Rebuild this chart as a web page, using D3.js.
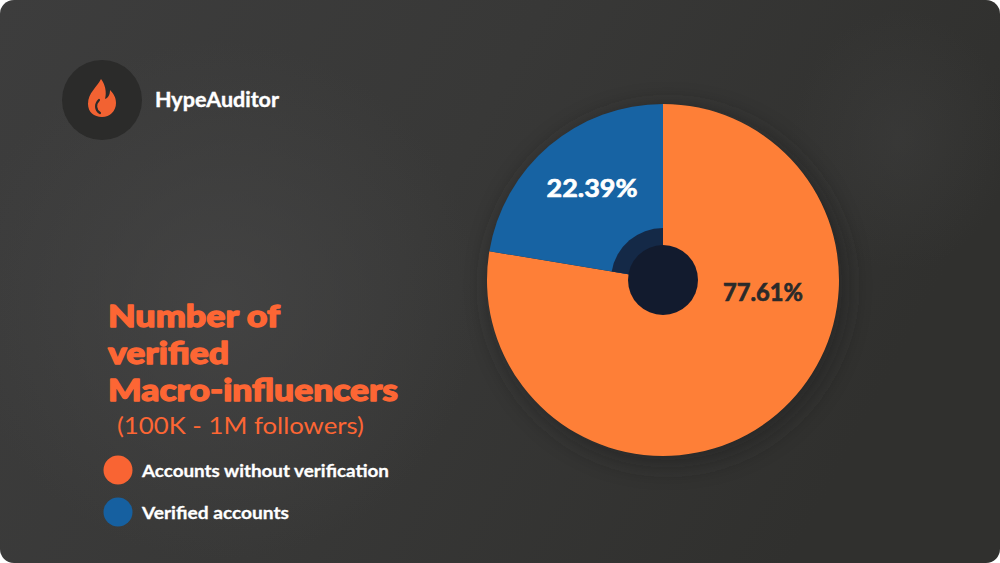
<!DOCTYPE html>
<html><head><meta charset="utf-8">
<script src="https://cdn.jsdelivr.net/npm/d3@7"></script>
<style>html,body{margin:0;padding:0;background:#fff;}svg{display:block;}</style>
</head><body>
<svg id="chart" width="1000" height="563"></svg>
<script>
const categories = ["Accounts without verification", "Verified accounts"];
const values = [77.61, 22.39];
const valueLabels = ["77.61%", "22.39%"];
const sliceColors = ["#fe7f37", "#1763a3"];
const legendColors = ["#f96433", "#1660a0"];
const titleLines = ["Number of", "verified", "Macro-influencers"];
const subtitle = "(100K - 1M followers)";
const brand = "HypeAuditor";

const svg = d3.select("#chart");
const defs = svg.append("defs");

const bg = defs.append("linearGradient").attr("id","bg").attr("x1","0").attr("y1","0").attr("x2","1").attr("y2","0.3");
bg.append("stop").attr("offset","0").attr("stop-color","#3d3d3d");
bg.append("stop").attr("offset","0.5").attr("stop-color","#383837");
bg.append("stop").attr("offset","1").attr("stop-color","#30302e");

const glow = defs.append("radialGradient").attr("id","glow");
glow.append("stop").attr("offset","0").attr("stop-color","#454545").attr("stop-opacity",0.8);
glow.append("stop").attr("offset","1").attr("stop-color","#454545").attr("stop-opacity",0);

const blur = defs.append("filter").attr("id","blur").attr("x","-50%").attr("y","-50%").attr("width","200%").attr("height","200%");
blur.append("feGaussianBlur").attr("stdDeviation", 12);

const clip = defs.append("clipPath").attr("id","card");
clip.append("rect").attr("x",0).attr("y",0).attr("width",1000).attr("height",563).attr("rx",14);

const card = svg.append("g").attr("clip-path","url(#card)");
card.append("rect").attr("width",1000).attr("height",563).attr("fill","url(#bg)");
card.append("ellipse").attr("cx",220).attr("cy",300).attr("rx",260).attr("ry",260).attr("fill","url(#glow)");
card.append("ellipse").attr("cx",900).attr("cy",140).attr("rx",110).attr("ry",130).attr("fill","url(#glow)").attr("opacity",0.4);

// logo
const logo = card.append("g");
logo.append("circle").attr("cx",102).attr("cy",100).attr("r",40).attr("fill","#2b2b2a");
logo.append("path")
  .attr("d","M101 79 C97 87 88 93 88 104 C88 112 94 117 102 117 C110 117 116 111 116 103 C116 97 113 93 110 90 C110 95 108 98 105 99 C107 92 105 84 101 79 Z")
  .attr("fill","#f26232");
logo.append("path")
  .attr("d","M99 100 C95 104 95 110 100 113")
  .attr("fill","none").attr("stroke","#2b2b2a").attr("stroke-width",2.2).attr("stroke-linecap","round");
logo.append("text").attr("x",155).attr("y",107).text(brand)
  .attr("font-family","Lato, sans-serif").attr("font-weight",700).attr("font-size",20.5)
  .attr("fill","#ffffff").attr("stroke","#ffffff").attr("stroke-width",0.4)
  .attr("textLength",124).attr("lengthAdjust","spacingAndGlyphs");

// pie
const cx = 663, cy = 280, R = 176;
const pieG = card.append("g").attr("transform",`translate(${cx},${cy})`);
pieG.append("circle").attr("r",R+2).attr("cx",5).attr("cy",6).attr("fill","#222221").attr("opacity",0.6).attr("filter","url(#blur)");

const pie = d3.pie().sort(null).value(d => d.value);
const data = categories.map((c,i) => ({cat:c, value:values[i], color:sliceColors[i], label:valueLabels[i]}));
const arcs = pie(data);
const arc = d3.arc().innerRadius(0).outerRadius(R);
pieG.selectAll("path.slice").data(arcs).join("path").attr("class","slice")
  .attr("d", arc).attr("fill", d => d.data.color);

// inner shadow in blue slice
const shadowArc = d3.arc().innerRadius(0).outerRadius(52);
pieG.append("path").attr("d", shadowArc(arcs[1])).attr("fill","#14213a").attr("opacity",0.88);
pieG.append("circle").attr("r",35).attr("fill","#121b2e");

// labels
const labelPos = [[100, 21], [-71, -83]];
const labelFill = ["#2a2a2a", "#ffffff"];
const labelW = [80, 91];
pieG.selectAll("text.val").data(arcs).join("text").attr("class","val")
  .attr("x",(d,i)=>labelPos[i][0]).attr("y",(d,i)=>labelPos[i][1])
  .attr("text-anchor","middle")
  .attr("font-family","Lato, sans-serif").attr("font-weight",700).attr("font-size",25)
  .attr("fill",(d,i)=>labelFill[i]).attr("stroke",(d,i)=>labelFill[i]).attr("stroke-width",0.7)
  .attr("textLength",(d,i)=>labelW[i]).attr("lengthAdjust","spacingAndGlyphs")
  .text(d => d.data.label);

// title
const titleY = [327, 364, 401];
const titleW = [172, 121, 290];
card.selectAll("text.title").data(titleLines).join("text").attr("class","title")
  .attr("x",108).attr("y",(d,i)=>titleY[i])
  .attr("font-family","Lato, sans-serif").attr("font-weight",900).attr("font-size",30.5)
  .attr("fill","#fd6634").attr("stroke","#fd6634").attr("stroke-width",1.3).attr("stroke-linejoin","round")
  .attr("textLength",(d,i)=>titleW[i]).attr("lengthAdjust","spacingAndGlyphs")
  .text(d=>d);
card.append("text").attr("x",117).attr("y",434)
  .attr("font-family","Lato, sans-serif").attr("font-weight",400).attr("font-size",24)
  .attr("fill","#fd6634").attr("textLength",247).attr("lengthAdjust","spacingAndGlyphs")
  .text(subtitle);

// legend
const legY = [470, 512];
const legW = [247, 147];
const leg = card.selectAll("g.leg").data(data).join("g").attr("class","leg")
  .attr("transform",(d,i)=>`translate(118,${legY[i]})`);
leg.append("circle").attr("r",14.5).attr("fill",(d,i)=>legendColors[i]);
leg.append("text").attr("x",24).attr("y",7)
  .attr("font-family","Lato, sans-serif").attr("font-weight",700).attr("font-size",17.5)
  .attr("fill","#ffffff").attr("stroke","#ffffff").attr("stroke-width",0.3)
  .attr("textLength",(d,i)=>legW[i]).attr("lengthAdjust","spacingAndGlyphs")
  .text(d=>d.cat);
</script>
</body></html>
